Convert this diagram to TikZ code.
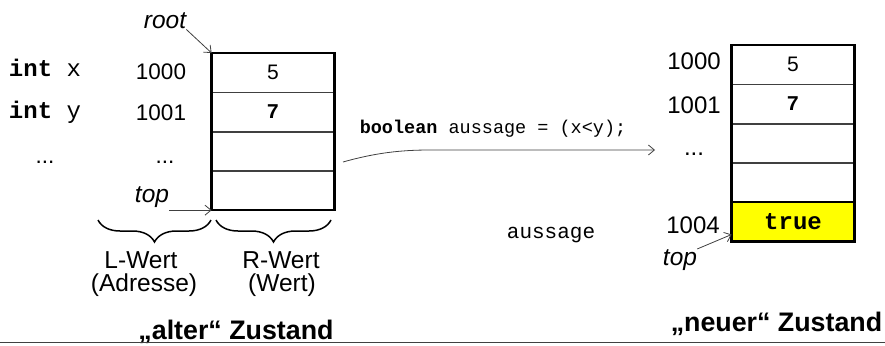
\documentclass[tikz,border=0pt]{standalone}
\usepackage{fontspec}
\setmainfont{Liberation Sans}
\setmonofont{Liberation Mono}
\usetikzlibrary{arrows.meta,decorations.pathreplacing}
\definecolor{hlyellow}{HTML}{FFFF00}
\definecolor{linegray}{HTML}{404040}
\begin{document}
\begin{tikzpicture}[x=1pt,y=-1pt,
  lbl/.style={inner sep=0pt, anchor=base, font=\fontsize{22.5}{26}\selectfont},
  lblr/.style={inner sep=0pt, anchor=base, font=\fontsize{24}{28}\selectfont},
  ital/.style={inner sep=0pt, anchor=base, font=\fontsize{24.5}{28}\selectfont\itshape},
  big/.style={inner sep=0pt, anchor=base, font=\fontsize{24.5}{28}\selectfont},
  title/.style={inner sep=0pt, anchor=base, font=\fontsize{26.8}{30}\selectfont\bfseries},
  mono/.style={inner sep=0pt, anchor=base, font=\fontsize{24}{28}\selectfont\ttfamily},
  code/.style={inner sep=0pt, anchor=base, font=\fontsize{18.5}{22}\selectfont\ttfamily},
  cell/.style={draw=linegray, line width=0.8pt, minimum width=122pt, minimum height=38.5pt,
               inner sep=0pt, anchor=north, font=\fontsize{21}{25}\selectfont},
  frame/.style={draw=black, line width=2.5pt},
  arr/.style={draw=linegray, line width=0.8pt, -{Straight Barb[length=6pt,width=10pt]}},
  brc/.style={draw=black, line width=1.5pt, decorate, decoration={brace, mirror, amplitude=22pt}}
]
\useasboundingbox (0,0) rectangle (885,345);

% ---------- left stack ----------
\node[cell] (L1) at (273,53) {5};
\node[cell] (L2) at (L1.south) {\ttfamily\bfseries 7};
\node[cell] (L3) at (L2.south) {};
\node[cell] (L4) at (L3.south) {};
\draw[frame] (L1.north west) rectangle (L4.south east);

\node[mono] (ix) at (45,77) {\textbf{int} x};
\node[mono] (iy) at (45,118) {\textbf{int} y};
\node[lbl] (a1000) at (161,79) {1000};
\node[lbl] (a1001) at (161,120) {1001};
\node[lbl, anchor=center] (d1) at (45,162) {...};
\node[lbl, anchor=center] (d2) at (165,162) {...};

\node[ital] (root) at (165,29) {root};
\node[ital] (topL) at (152,202) {top};
\draw[arr] (root.south east) -- (L1.north west);
\draw[arr] (topL.east |- L4.south west) -- (L4.south west);

\coordinate (bl1) at (98,220);
\coordinate (bl2) at (211,220);
\coordinate (br1) at (216,220);
\coordinate (br2) at (331,220);
\draw[brc] (bl1) -- (bl2);
\draw[brc] (br1) -- (br2);

\node[big] (lw) at (141,268) {L-Wert};
\node[big] (ad) at (144,291) {(Adresse)};
\node[big] (rw) at (281,268) {R-Wert};
\node[big] (wt) at (282,291) {(Wert)};

\node[title] (alt) at (236,339) {„alter“ Zustand};

% ---------- arrow ----------
\node[code] (stmt) at (493,133) {\textbf{boolean} aussage = (x<y);};
\coordinate (as) at (343,162);
\coordinate (am) at (430,150);
\coordinate (ae) at (655,150);
\draw[arr] (as) .. controls (375,153) and (400,150) .. (am) -- (ae);
\node[lbl, font=\fontsize{21}{25}\selectfont\ttfamily] (auss) at (551,238) {aussage};

% ---------- right stack ----------
\node[cell] (R1) at (793,45) {5};
\node[cell] (R2) at (R1.south) {\ttfamily\bfseries 7};
\node[cell] (R3) at (R2.south) {};
\node[cell] (R4) at (R3.south) {};
\node[cell, fill=hlyellow] (R5) at (R4.south) {\fontsize{24}{28}\selectfont\ttfamily\bfseries true};
\draw[frame] (R1.north west) rectangle (R5.south east);
\draw[frame] (R5.north west) rectangle (R5.south east);

\node[lblr] (b1000) at (694,70) {1000};
\node[lblr] (b1001) at (694,113) {1001};
\node[lblr, anchor=center] (d3) at (694,154) {...};
\node[lblr] (b1004) at (693,233) {1004};
\node[ital] (topR) at (680,265) {top};
\draw[arr] (topR.north east) -- ([yshift=7pt]R5.south west);

\node[title] (neu) at (776.5,331) {„neuer“ Zustand};

% ---------- bottom rule ----------
\coordinate (h1) at (0,342.5);
\coordinate (h2) at (885,342.5);
\draw[linegray, line width=1.8pt] (h1) -- (h2);
\end{tikzpicture}
\end{document}
